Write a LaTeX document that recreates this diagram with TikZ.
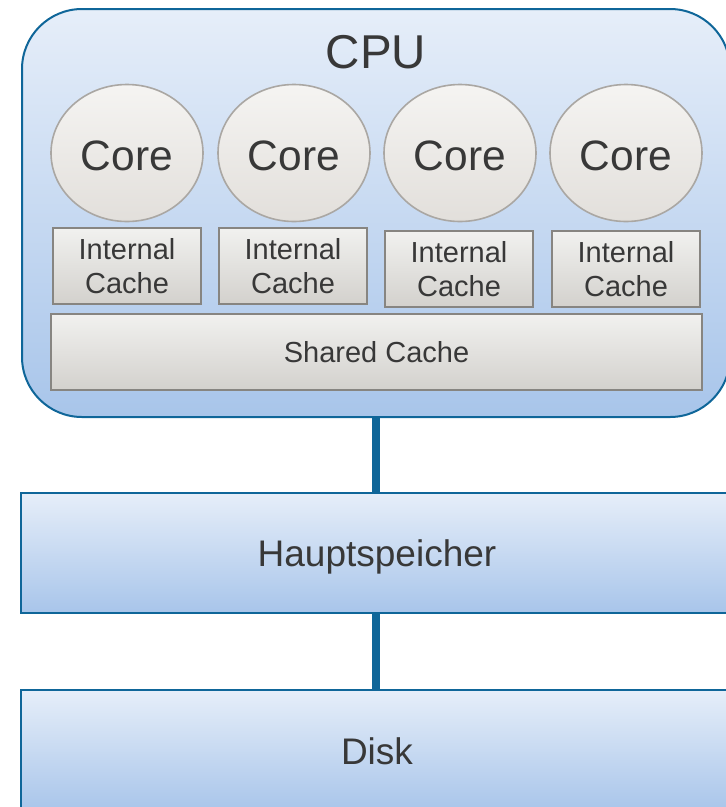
\documentclass[tikz,border=0pt]{standalone}
\usepackage{fontspec}
\setmainfont{Liberation Sans}
\usetikzlibrary{shapes.geometric}
\definecolor{edgeblue}{HTML}{0F6699}
\definecolor{blueTop}{HTML}{E6EEF9}
\definecolor{blueBot}{HTML}{A8C5EA}
\definecolor{coreTop}{HTML}{F5F4F2}
\definecolor{coreBot}{HTML}{E2DFDB}
\definecolor{coreEdge}{HTML}{AAA7A3}
\definecolor{cacheTop}{HTML}{F1F1EF}
\definecolor{cacheBot}{HTML}{D3D1CD}
\definecolor{cacheEdge}{HTML}{878581}
\definecolor{txt}{HTML}{383838}
\tikzset{
  bluebox/.style={draw=edgeblue, line width=2pt, top color=blueTop, bottom color=blueBot, text=txt},
  corenode/.style={ellipse, draw=coreEdge, line width=1.6pt, top color=coreTop, bottom color=coreBot,
    minimum width=152pt, minimum height=137pt, inner sep=0pt, text=txt, text height=34pt, text depth=0pt,
    font=\fontsize{42.5}{42.5}\selectfont},
  cachebox/.style={rectangle, draw=cacheEdge, line width=1.6pt, top color=cacheTop, bottom color=cacheBot,
    minimum width=148pt, minimum height=76pt, inner sep=0pt, text=txt, align=center,
    font=\fontsize{29}{34}\selectfont},
  conn/.style={draw=edgeblue, line width=8pt},
}
\begin{document}
\begin{tikzpicture}[x=1pt,y=-1pt]
\useasboundingbox (0,0) rectangle (726,807);
\clip (0,0) rectangle (726,807);
% CPU box
\node[bluebox, rounded corners=60pt, minimum width=708pt, minimum height=408pt, inner sep=0pt, anchor=north west] (cpu) at (21,8) {};
\node[text=txt, font=\fontsize{47.5}{47.5}\selectfont] (cpulabel) at (376,52) {CPU};
% cores
\foreach \i/\x in {1/127,2/294,3/460,4/626}{
  \node[corenode] (core\i) at (\x,153) {Core};
}
% internal caches
\node[cachebox] (ic1) at (127,266) {Internal\\Cache};
\node[cachebox] (ic2) at (293,266) {Internal\\Cache};
\node[cachebox] (ic3) at (459,269) {Internal\\Cache};
\node[cachebox] (ic4) at (626,269) {Internal\\Cache};
% shared cache
\node[cachebox, minimum width=651pt, minimum height=76pt, font=\fontsize{29}{29}\selectfont] (shared) at (376.5,352) {Shared Cache};
% main memory and disk
\node[bluebox, rectangle, minimum width=712pt, minimum height=120pt, inner sep=0pt, text depth=0pt, font=\fontsize{37}{37}\selectfont] (mem) at (377,553) {Hauptspeicher};
\node[bluebox, rectangle, minimum width=712pt, minimum height=122pt, inner sep=0pt, font=\fontsize{37}{37}\selectfont] (disk) at (377,751) {Disk};
% connectors
\draw[conn] (cpu.south -| cpulabel) -- (mem.north -| cpulabel);
\draw[conn] (mem.south -| cpulabel) -- (disk.north -| cpulabel);
\end{tikzpicture}
\end{document}
